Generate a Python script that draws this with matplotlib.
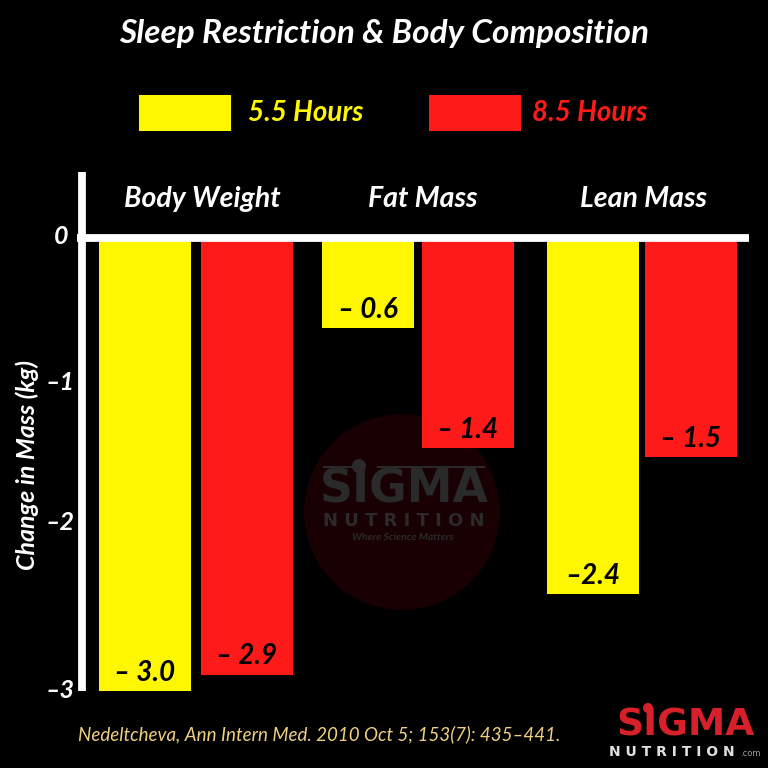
import matplotlib
matplotlib.use("Agg")
import matplotlib.pyplot as plt
from matplotlib.patches import Circle, Rectangle

groups = ["Body Weight", "Fat Mass", "Lean Mass"]
series_names = ["5.5 Hours", "8.5 Hours"]
short_sleep = [-3.0, -0.58, -2.35]
long_sleep = [-2.89, -1.38, -1.44]
short_labels = ["\u2013 3.0", "\u2013 0.6", "\u20132.4"]
long_labels = ["\u2013 2.9", "\u2013 1.4", "\u2013 1.5"]
y_tick_labels = ["0", "\u20131", "\u20132", "\u20133"]
source = "Nedeltcheva, Ann Intern Med. 2010 Oct 5; 153(7): 435\u2013441."

YELLOW = "#fff700"
RED = "#ff1a1a"
BAR_W = 92
short_x = [145, 368, 593]
long_x = [247, 468, 691]
group_x = [202, 423, 643]
tick_px = [236, 383, 523, 690]
tick_right = [68, 75, 75, 75]

plt.rcParams['font.family'] = ['Lato', 'DejaVu Sans']

fig = plt.figure(figsize=(7.68, 7.68), dpi=100, facecolor="black")

# pixel overlay for the legend, logos and other decoration
bg = fig.add_axes([0, 0, 1, 1])
bg.set_xlim(0, 768)
bg.set_ylim(768, 0)
bg.axis("off")

# watermark behind the bars
bg.add_patch(Circle((402, 512), 98, color="#190002", lw=0))
bg.plot([324, 352], [467, 467], color="#2a2a2a", lw=1.5)
bg.plot([378, 484], [467, 467], color="#2a2a2a", lw=1.5)
bg.add_patch(Circle((359, 466), 7, color="#2a2a2a", lw=0))
bg.text(404, 490, "SIGMA", color="#2a2a2a", fontsize=33, fontweight="bold",
        family="DejaVu Sans", ha="center", va="center")
bg.text(404, 521, "N U T R I T I O N", color="#2a2a2a", fontsize=13, fontweight="bold",
        family="DejaVu Sans", ha="center", va="center")
bg.text(403, 538, "Where Science Matters", color="#2a2a2a", fontsize=7.5, style="italic",
        fontweight="bold", ha="center", va="center")

# main axes: x in pixels, y in kg
PX_TOP, PX_BOTTOM = 172, 691
KG_PER_PX = 3.0 / (691 - 241)
y_top = (241 - PX_TOP) * KG_PER_PX
ax = fig.add_axes([0, (768 - PX_BOTTOM) / 768, 1, (PX_BOTTOM - PX_TOP) / 768])
ax.patch.set_alpha(0)
ax.set_xlim(0, 768)
ax.set_ylim(-3.0, y_top)
ax.axis("off")

ax.bar(short_x, short_sleep, width=BAR_W, color=YELLOW, zorder=2)
ax.bar(long_x, long_sleep, width=BAR_W, color=RED, zorder=2)

# zero line and y axis
ax.plot([82, 82], [-3.0, y_top], color="white", lw=5.6, zorder=3,
        solid_capstyle="butt", clip_on=False)
ax.plot([77, 749], [0.02, 0.02], color="white", lw=5.6, zorder=3,
        solid_capstyle="butt", clip_on=False)

# the reference's tick labels do not sit exactly on scale
for px, right, s in zip(tick_px, tick_right, y_tick_labels):
    bg.text(right, px, s, color="white", fontsize=18, style="italic", fontweight="bold",
            ha="right", va="center", zorder=5)

for x, v, s in zip(short_x + long_x, short_sleep + long_sleep, short_labels + long_labels):
    ax.text(x, v + 0.12, s, color="black", fontsize=20, style="italic", fontweight="bold",
            ha="center", va="center", zorder=4)

for x, g in zip(group_x, groups):
    ax.text(x, 0.28, g, color="white", fontsize=20.5, style="italic", fontweight="bold",
            ha="center", va="center")

bg.text(27, 465, "Change in Mass (kg)", color="white", fontsize=18, style="italic",
        fontweight="bold", rotation=90, ha="center", va="center")

# title and legend
bg.text(384, 33, "Sleep Restriction & Body Composition", color="white", fontsize=24,
        style="italic", fontweight="bold", ha="center", va="center")
bg.add_patch(Rectangle((139, 95), 92, 36, color=YELLOW, lw=0))
bg.add_patch(Rectangle((429, 95), 92, 36, color=RED, lw=0))
bg.text(248, 113, series_names[0], color=YELLOW, fontsize=20, style="italic", fontweight="bold",
        ha="left", va="center")
bg.text(532, 113, series_names[1], color=RED, fontsize=20, style="italic", fontweight="bold",
        ha="left", va="center")

bg.text(78, 734, source, color="#f0d080", fontsize=13.5, style="italic", ha="left", va="center")

# logo bottom right
bg.text(685, 725, "SIGMA", color="#d8202a", fontsize=27, fontweight="bold", family="DejaVu Sans",
        ha="center", va="center")
bg.add_patch(Circle((648, 708), 5, color="#d8202a", lw=0))
bg.text(672, 752, "N U T R I T I O N", color="#e0e0e0", fontsize=10, fontweight="bold",
        family="DejaVu Sans", ha="center", va="center")
bg.text(750, 753, ".com", color="#a0a0a0", fontsize=6, family="DejaVu Sans", ha="center", va="center")

plt.savefig("out.png", dpi=100, facecolor="black")
plt.close()
